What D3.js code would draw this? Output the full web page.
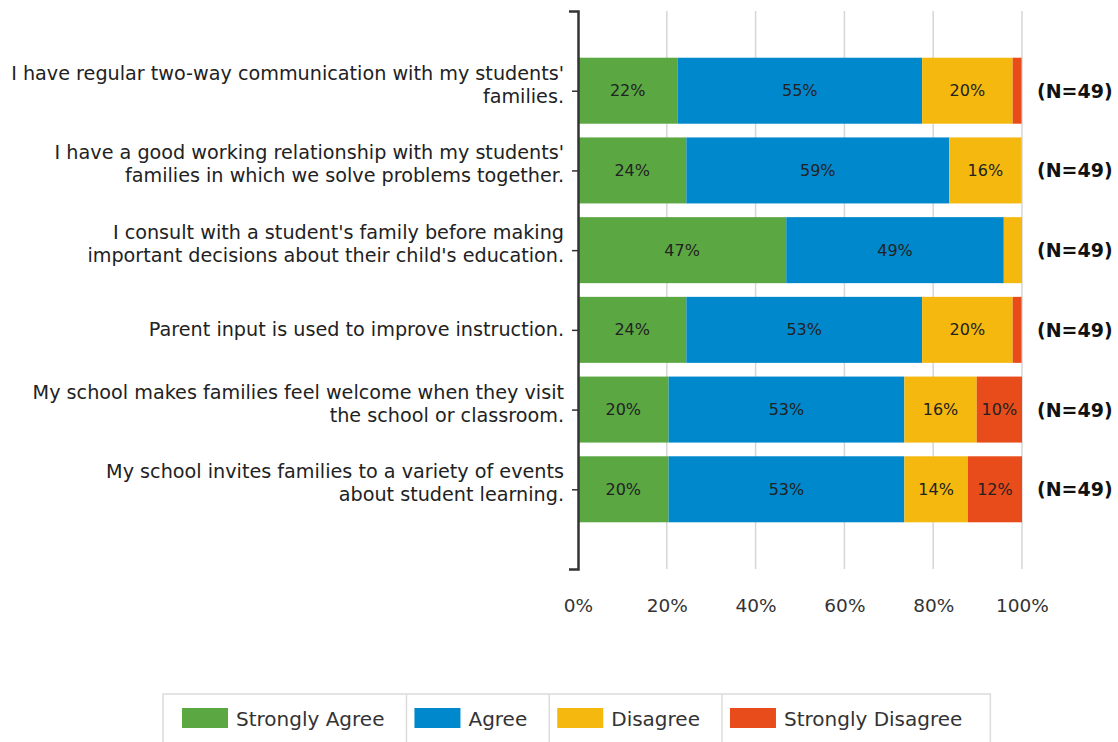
<!DOCTYPE html>
<html><head><meta charset="utf-8">
<script src="https://cdn.jsdelivr.net/npm/d3@7"></script>
<style>body{margin:0;background:#fff;} svg{display:block;font-family:"DejaVu Sans",sans-serif;}</style>
</head><body>
<svg id="c" width="1118" height="742"></svg>
<script>
const categories = [
  "I have regular two-way communication with my students'|families.",
  "I have a good working relationship with my students'|families in which we solve problems together.",
  "I consult with a student's family before making|important decisions about their child's education.",
  "Parent input is used to improve instruction.",
  "My school makes families feel welcome when they visit|the school or classroom.",
  "My school invites families to a variety of events|about student learning."
];
const seriesNames = ["Strongly Agree","Agree","Disagree","Strongly Disagree"];
const colors = ["#5BA843","#0088CC","#F4B80F","#E84C1A"];
const stronglyAgree    = [22.4, 24.4, 46.9, 24.4, 20.4, 20.4];
const agree            = [55.1, 59.2, 49.0, 53.1, 53.1, 53.1];
const disagree         = [20.4, 16.3,  4.1, 20.4, 16.3, 14.3];
const stronglyDisagree = [ 2.0,  0.0,  0.0,  2.0, 10.2, 12.2];
const nLabels = ["(N=49)","(N=49)","(N=49)","(N=49)","(N=49)","(N=49)"];
const xTicks = [0,20,40,60,80,100];

const svg = d3.select("#c");
const x = d3.scaleLinear().domain([0,100]).range([578,1022]);
const y = d3.scalePoint().domain(categories).range([11,569]).padding(1);
const barH = 66;

// gridlines
svg.append("g").selectAll("line").data(xTicks.filter(d=>d>0)).join("line")
  .attr("x1",d=>x(d)).attr("x2",d=>x(d)).attr("y1",11).attr("y2",569)
  .attr("stroke","#d6d6d6").attr("stroke-width",1.5);

// stack
const rows = categories.map((c,i)=>({cat:c, v:[stronglyAgree[i],agree[i],disagree[i],stronglyDisagree[i]]}));
const segs = [];
rows.forEach((r,i)=>{ let acc=0; r.v.forEach((v,k)=>{ segs.push({cat:r.cat,k,v,x0:acc,x1:acc+v}); acc+=v; }); });

svg.append("g").selectAll("rect").data(segs.filter(d=>d.v>0)).join("rect")
  .attr("x",d=>x(d.x0)).attr("width",d=>x(d.x1)-x(d.x0))
  .attr("y",d=>y(d.cat)-barH/2).attr("height",barH)
  .attr("fill",d=>colors[d.k]);

svg.append("g").selectAll("text").data(segs.filter(d=>d.v>=8)).join("text")
  .attr("x",d=>(x(d.x0)+x(d.x1))/2).attr("y",d=>y(d.cat)+5.5)
  .attr("text-anchor","middle").attr("font-size",16).attr("fill","#222")
  .text(d=>Math.round(d.v)+"%");

// N labels
svg.append("g").selectAll("text").data(categories).join("text")
  .attr("x",1037).attr("y",d=>y(d)+7).attr("font-size",19).attr("font-weight","bold").attr("fill","#111")
  .text((d,i)=>nLabels[i]);

// y axis
const yAxis = svg.append("g").attr("transform","translate(578,0)")
  .call(d3.axisLeft(y).tickSize(6).tickSizeOuter(9).tickFormat(""));
yAxis.select(".domain").attr("stroke","#333").attr("stroke-width",2.5);
yAxis.selectAll(".tick line").attr("stroke","#333").attr("stroke-width",1.5);

// category labels
const cl = svg.append("g").selectAll("text").data(categories).join("text")
  .attr("text-anchor","end").attr("font-size",19.2).attr("fill","#222");
cl.each(function(d){
  const lines = d.split("|");
  const t = d3.select(this);
  const c = y(d);
  if(lines.length===1){
    t.append("tspan").attr("x",564).attr("y",c+6).text(lines[0]);
  } else {
    t.append("tspan").attr("x",564).attr("y",c-11).text(lines[0]);
    t.append("tspan").attr("x",564).attr("y",c+12).text(lines[1]);
  }
});

// x axis labels
const xAxis = svg.append("g").attr("transform","translate(0,569)")
  .call(d3.axisBottom(x).tickValues(xTicks).tickSize(0).tickPadding(30).tickFormat(d=>d+"%"));
xAxis.select(".domain").remove();
xAxis.selectAll("text").attr("font-size",18.5).attr("fill","#333").attr("font-family","DejaVu Sans");

// legend
const lg = svg.append("g");
const box = lg.append("rect").attr("y",694).attr("height",70).attr("x",163).attr("fill","none").attr("stroke","#dcdcdc").attr("stroke-width",1.5);
let cx = 182;
seriesNames.forEach((s,k)=>{
  lg.append("rect").attr("x",cx).attr("y",708).attr("width",46).attr("height",20).attr("fill",colors[k]);
  const t = lg.append("text").attr("x",cx+54).attr("y",725.5).attr("font-size",20).attr("fill","#333").text(s);
  const w = t.node().getComputedTextLength();
  const end = cx+54+w;
  if(k<seriesNames.length-1){
    lg.append("line").attr("x1",end+22).attr("x2",end+22).attr("y1",694).attr("y2",742).attr("stroke","#dcdcdc").attr("stroke-width",1.5);
    cx = end+30;
  } else {
    box.attr("width",end+28-163);
  }
});
</script>
</body></html>
